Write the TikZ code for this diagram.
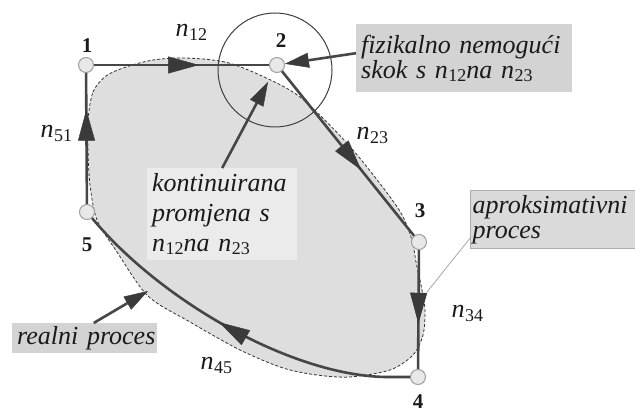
\documentclass[tikz,border=0pt]{standalone}
\usepackage{fontspec}
\setmainfont{Liberation Serif}
\usetikzlibrary{arrows.meta,decorations.markings}

\definecolor{linegray}{HTML}{464646}
\definecolor{tipgray}{HTML}{3A3A3A}
\definecolor{areagray}{HTML}{DEDEDE}
\definecolor{notegray}{HTML}{D3D3D3}
\definecolor{boxgray}{HTML}{DADADA}
\definecolor{softgray}{HTML}{EBEBEB}
\definecolor{txt}{HTML}{1A1A1A}

% italic n with an upright numeric index
\newcommand{\nidx}[1]{\textit{n}\kern0.5pt\raisebox{-3.5pt}{\fontsize{18}{18}\selectfont\upshape #1}}

\tikzset{
  big/.style={font=\fontsize{26}{25}\selectfont\itshape, text=txt},
  note/.style={big, anchor=north west, align=left, inner xsep=5pt, inner ysep=0pt},
  state/.style={circle, draw=gray!75, fill=gray!18, line width=1pt, minimum size=15pt, inner sep=0pt},
  proc/.style={draw=linegray, line width=2.6pt},
  midtip/.style={postaction={decorate}, decoration={markings,
      mark=at position #1 with {\arrow{Triangle[length=31pt,width=17pt,line width=0.5pt,color=tipgray]}}}},
  callout/.style={draw=linegray, line width=2.6pt, -{Triangle[length=24pt,width=15pt,line width=0.5pt,color=tipgray]}},
  num/.style={font=\fontsize{21}{21}\selectfont\bfseries, text=txt, anchor=base, inner sep=0pt},
  idx/.style={font=\fontsize{26}{26}\selectfont, text=txt, anchor=base west},
}

\begin{document}
\begin{tikzpicture}[x=1pt,y=-1pt]
\useasboundingbox (0,0) rectangle (635,414);
\fill[white] (0,0) rectangle (635,414);

% approximate (real) process region
\draw[fill=areagray, draw=black!80, line width=0.8pt, dash pattern=on 3pt off 2pt]
  plot[smooth cycle, tension=0.5] coordinates {
    (88,120) (93,92) (106,76) (126,67) (153,60) (185,58) (225,62) (262,76)
    (300,97) (345,141) (378,181) (401,213) (412,240) (416,262) (421,285)
    (425,310) (423,335) (413,355) (390,370) (350,377) (317,375) (283,368)
    (240,350) (190,322) (148,296) (117,252) (97,220) (90,185) (88,150)};

% note inside the region
\node[note, fill=softgray, text width=140pt, minimum height=92pt,
      font=\fontsize{26}{30}\selectfont\itshape] (cont) at (147,168)
  {kontinuirana\\promjena s\\\nidx{12}na \nidx{23}};

% ring around state 2
\node[draw=black!75, line width=1pt, circle, minimum size=114pt, inner sep=0pt] (ring) at (275,70) {};

% states
\node[state] (p1) at (86,65) {};
\node[state] (p2) at (277,65) {};
\node[state] (p3) at (419,242) {};
\node[state] (p4) at (418,377) {};
\node[state] (p5) at (87,212) {};

% process lines
\draw[proc, midtip=0.6] (p1) -- (p2);
\draw[proc, midtip=0.6] (p2) -- (p3);
\draw[proc, midtip=0.62] (p3) -- (p4);
\draw[proc, midtip=0.55] (p4) -- (385,377) .. controls (290,375) and (160,300) .. (p5);
\draw[proc, midtip=0.72] (p5) -- (p1);

% callouts
\node[note, fill=notegray, text width=206pt, minimum height=68pt] (fiz) at (356,24)
  {fizikalno nemogući\\skok s \nidx{12}na \nidx{23}};
\draw[callout] ([yshift=5pt]fiz.west) -- (p2);

\coordinate (kink) at (268,82);
\draw[callout] (cont.north) -- (kink);

\node[note, fill=notegray, text width=135pt, minimum height=30pt, inner xsep=5pt] (realni) at (12,323)
  {\mbox{realni proces}};
\coordinate (realtip) at (148,291);
\draw[callout] ([xshift=9pt]realni.north) -- (realtip);

\node[note, fill=boxgray, draw=gray!65, line width=1.2pt, text width=185pt, minimum height=58pt,
      inner xsep=2pt] (aprox) at (470,190)
  {aproksimativni\\proces};
\coordinate (apxend) at (427,292);
\draw[gray!70, line width=0.8pt] ([yshift=11pt]aprox.south west) -- (apxend);

% index labels
\node[idx] (l12) at (172,37) {\nidx{12}};
\node[idx] (l51) at (37,138) {\nidx{51}};
\node[idx] (l23) at (353,140) {\nidx{23}};
\node[idx] (l34) at (448,318) {\nidx{34}};
\node[idx] (l45) at (197,370) {\nidx{45}};

% state numbers
\node[num] (t1) at (87,53) {1};
\node[num] (t2) at (281,48) {2};
\node[num] (t3) at (420,218) {3};
\node[num] (t4) at (418,408) {4};
\node[num] (t5) at (87,252) {5};
\end{tikzpicture}
\end{document}
